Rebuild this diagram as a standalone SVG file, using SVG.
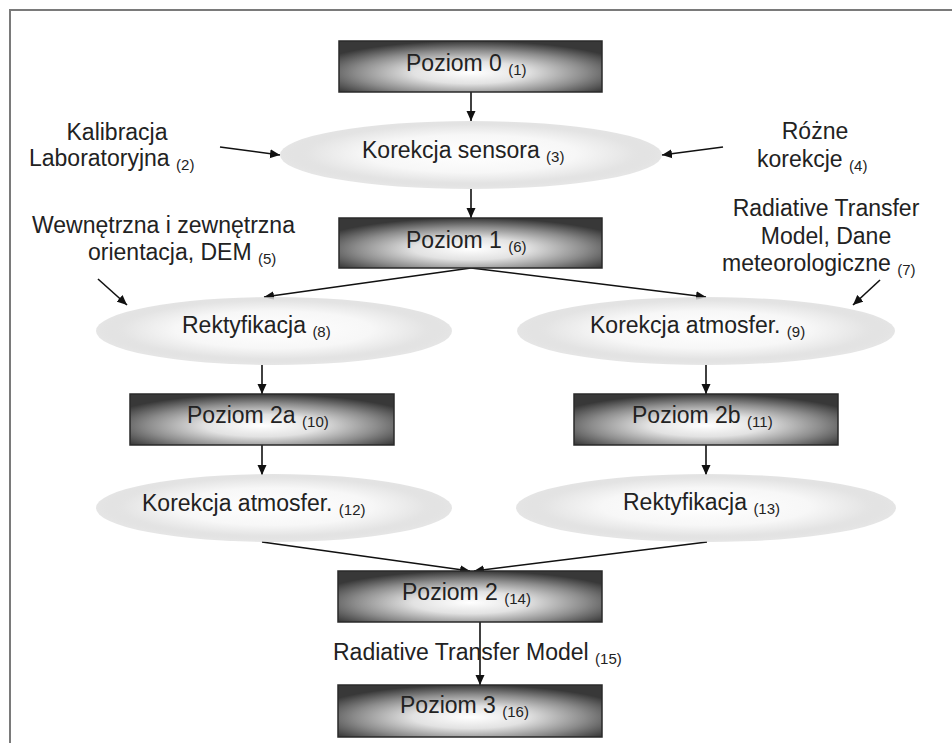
<svg xmlns="http://www.w3.org/2000/svg" width="952" height="743" viewBox="0 0 952 743">
<defs>
<radialGradient id="boxg" cx="50%" cy="62%" r="62%">
<stop offset="0" stop-color="#ffffff"/>
<stop offset="0.35" stop-color="#e2e2e2"/>
<stop offset="0.7" stop-color="#8c8c8c"/>
<stop offset="1" stop-color="#383838"/>
</radialGradient>
<radialGradient id="ellg" cx="50%" cy="48%" r="50%">
<stop offset="0" stop-color="#ffffff"/>
<stop offset="0.55" stop-color="#f7f7f7"/>
<stop offset="0.85" stop-color="#e4e4e4"/>
<stop offset="1" stop-color="#d4d4d4" stop-opacity="0.6"/>
</radialGradient>
<marker id="ah" viewBox="0 0 10 10" refX="10" refY="5" markerWidth="10" markerHeight="10" markerUnits="userSpaceOnUse" orient="auto">
<path d="M0,0.5 L10,5 L0,9.5 Z" fill="#111"/>
</marker>
</defs>
<style>
.box{fill:url(#boxg);stroke:#2a2a2a;stroke-width:1.5}
.ell{fill:url(#ellg)}
.t{font-family:"Liberation Sans",Arial,sans-serif;font-size:23px;fill:#222}
.s{font-family:"Liberation Sans",Arial,sans-serif;font-size:15px;fill:#222}
.c{stroke:#111;stroke-width:1.6;fill:none}
.ca{stroke:#111;stroke-width:1.6;fill:none;marker-end:url(#ah)}
.frame{stroke:#7a7a7a;stroke-width:2;fill:none}
</style>
<rect width="952" height="743" fill="#ffffff"/>
<path class="frame" d="M10,743 L10,10 L952,10"/>

<g id="connectors">
<line class="ca" x1="471" y1="92" x2="471" y2="121"/>
<line class="ca" x1="471" y1="189" x2="471" y2="218"/>
<line class="ca" x1="220" y1="147" x2="280" y2="155"/>
<line class="ca" x1="723" y1="147" x2="662" y2="155"/>
<line class="ca" x1="471" y1="268" x2="264" y2="297"/>
<line class="ca" x1="471" y1="268" x2="706" y2="297"/>
<line class="ca" x1="98" y1="279" x2="127" y2="305"/>
<line class="ca" x1="880" y1="280" x2="853" y2="305"/>
<line class="ca" x1="262" y1="365" x2="262" y2="394"/>
<line class="ca" x1="262" y1="445" x2="262" y2="475"/>
<line class="ca" x1="706" y1="365" x2="706" y2="394"/>
<line class="ca" x1="706" y1="445" x2="706" y2="475"/>
<line class="ca" x1="262" y1="542" x2="470" y2="571"/>
<line class="ca" x1="707" y1="542" x2="474" y2="571"/>
<line class="ca" x1="480" y1="622" x2="480" y2="685"/>
</g>

<g id="n1">
<rect class="box" x="339" y="41" width="263" height="51"/>
<text class="t" x="406" y="71">Poziom 0 <tspan class="s" dy="4">(1)</tspan></text>
</g>
<g id="n2">
<text class="t" x="117" y="140" text-anchor="middle">Kalibracja</text>
<text class="t" x="29" y="166">Laboratoryjna <tspan class="s" dy="4">(2)</tspan></text>
</g>
<g id="n3">
<ellipse class="ell" cx="471" cy="155" rx="191" ry="34"/>
<text class="t" x="362" y="158">Korekcja sensora <tspan class="s" dy="4">(3)</tspan></text>
</g>
<g id="n4">
<text class="t" x="815" y="139" text-anchor="middle">Różne</text>
<text class="t" x="757" y="167">korekcje <tspan class="s" dy="4">(4)</tspan></text>
</g>
<g id="n5">
<text class="t" x="32" y="233">Wewnętrzna i zewnętrzna</text>
<text class="t" x="88" y="260">orientacja, DEM <tspan class="s" dy="4">(5)</tspan></text>
</g>
<g id="n6">
<rect class="box" x="339" y="218" width="263" height="50"/>
<text class="t" x="406" y="248">Poziom 1 <tspan class="s" dy="4">(6)</tspan></text>
</g>
<g id="n7">
<text class="t" x="826" y="216" text-anchor="middle">Radiative Transfer</text>
<text class="t" x="826" y="244" text-anchor="middle">Model, Dane</text>
<text class="t" x="722" y="271">meteorologiczne <tspan class="s" dy="4">(7)</tspan></text>
</g>
<g id="n8">
<ellipse class="ell" cx="274" cy="331" rx="178" ry="34"/>
<text class="t" x="182" y="333">Rektyfikacja <tspan class="s" dy="4">(8)</tspan></text>
</g>
<g id="n9">
<ellipse class="ell" cx="706" cy="331" rx="189" ry="34"/>
<text class="t" x="590" y="333">Korekcja atmosfer. <tspan class="s" dy="4">(9)</tspan></text>
</g>
<g id="n10">
<rect class="box" x="130" y="394" width="264" height="51"/>
<text class="t" x="187" y="423">Poziom 2a <tspan class="s" dy="4">(10)</tspan></text>
</g>
<g id="n11">
<rect class="box" x="574" y="394" width="264" height="51"/>
<text class="t" x="632" y="423">Poziom 2b <tspan class="s" dy="4">(11)</tspan></text>
</g>
<g id="n12">
<ellipse class="ell" cx="274" cy="508" rx="178" ry="34"/>
<text class="t" x="142" y="511">Korekcja atmosfer. <tspan class="s" dy="4">(12)</tspan></text>
</g>
<g id="n13">
<ellipse class="ell" cx="706" cy="508" rx="190" ry="34"/>
<text class="t" x="623" y="510">Rektyfikacja <tspan class="s" dy="4">(13)</tspan></text>
</g>
<g id="n14">
<rect class="box" x="338" y="571" width="264" height="51"/>
<text class="t" x="402" y="600">Poziom 2 <tspan class="s" dy="4">(14)</tspan></text>
</g>
<g id="n15">
<text class="t" x="333" y="660">Radiative Transfer Model <tspan class="s" dy="4">(15)</tspan></text>
</g>
<g id="n16">
<rect class="box" x="338" y="685" width="264" height="52"/>
<text class="t" x="400" y="713">Poziom 3 <tspan class="s" dy="4">(16)</tspan></text>
</g>
</svg>
